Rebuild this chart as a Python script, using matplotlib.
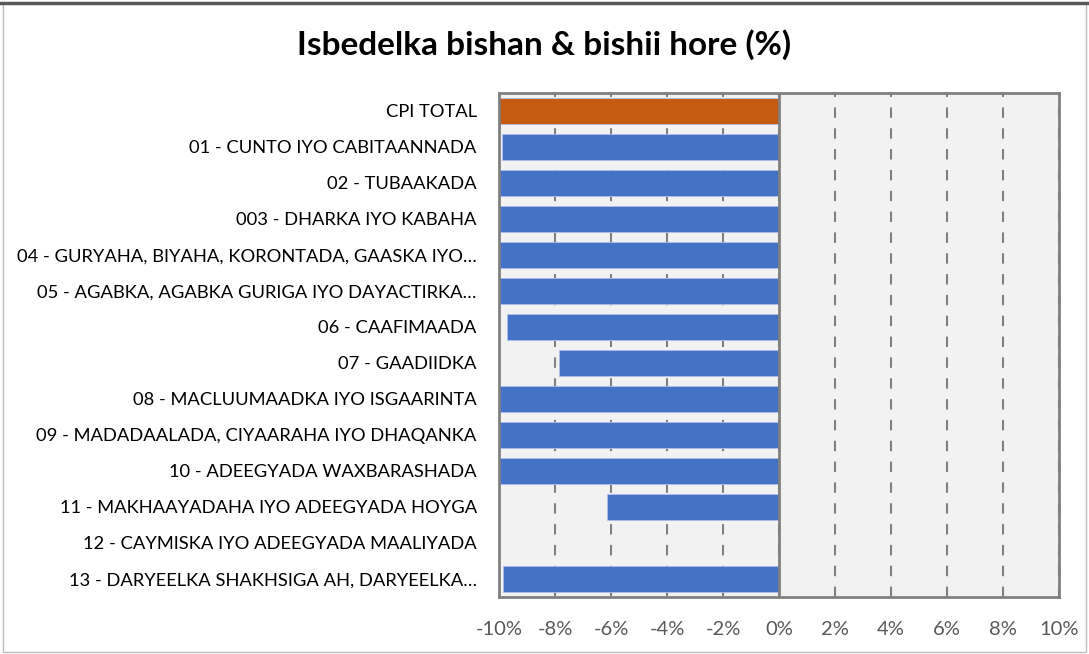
import matplotlib
matplotlib.use('Agg')

import matplotlib.pyplot as plt
from matplotlib.ticker import FuncFormatter
from matplotlib.patches import Rectangle

# 카테고리와 값 (%), -10% 밖은 잘린 값
categories = [
    'CPI TOTAL',
    '01 - CUNTO IYO CABITAANNADA',
    '02 - TUBAAKADA',
    '003 - DHARKA IYO KABAHA',
    '04 - GURYAHA, BIYAHA, KORONTADA, GAASKA IYO…',
    '05 - AGABKA, AGABKA GURIGA IYO DAYACTIRKA…',
    '06 - CAAFIMAADA',
    '07 - GAADIIDKA',
    '08 - MACLUUMAADKA IYO ISGAARINTA',
    '09 - MADADAALADA, CIYAARAHA IYO DHAQANKA',
    '10 - ADEEGYADA WAXBARASHADA',
    '11 - MAKHAAYADAHA IYO ADEEGYADA HOYGA',
    '12 - CAYMISKA IYO ADEEGYADA MAALIYADA',
    '13 - DARYEELKA SHAKHSIGA AH, DARYEELKA…',
]
values = [-12.0, -9.9, -12.0, -12.0, -12.0, -12.0, -9.73, -7.84,
          -12.0, -12.0, -12.0, -6.16, 0.0, -9.86]
bar_colors = ['#C55A11'] + ['#4472C4'] * (len(categories) - 1)
xticks = [-10, -8, -6, -4, -2, 0, 2, 4, 6, 8, 10]

plt.rcParams['font.family'] = ['Lato', 'DejaVu Sans']

fig = plt.figure(figsize=(10.89, 6.54), dpi=100)
ax = fig.add_axes([0.4582, 0.0872, 0.9725 - 0.4582, 0.8578 - 0.0872])
ax.set_facecolor('#F2F2F2')

ypos = list(range(len(categories)))
ax.barh(ypos, values, height=0.7, color=bar_colors, edgecolor='#A9C0E8',
        linewidth=0.6, zorder=3)

ax.set_xlim(-10, 10)
ax.set_ylim(len(categories) - 0.5, -0.5)
ax.set_xticks(xticks)
ax.xaxis.set_major_formatter(FuncFormatter(lambda v, p: f'{v:.0f}%'))
ax.tick_params(axis='x', length=0, pad=17, labelsize=14.5, labelcolor='#595959')
ax.set_yticks(ypos)
ax.set_yticklabels(categories)
ax.tick_params(axis='y', length=0, pad=16, labelsize=13.2, labelcolor='#000000')

# 점선 그리드
ax.grid(axis='x', color='#808080', linestyle=(0, (5, 5)), linewidth=1.5, zorder=1)
ax.axvline(0, color='#808080', linewidth=2, zorder=4)
for s in ax.spines.values():
    s.set_color('#808080')
    s.set_linewidth(2)
    s.set_zorder(5)

fig.suptitle('Isbedelka bishan & bishii hore (%)', y=0.955, fontsize=24,
             fontweight='bold', x=0.5)

# 차트 바깥 테두리
fig.patches.append(Rectangle((0.003, 0.003), 0.994, 0.992, transform=fig.transFigure,
                             fill=False, edgecolor='#BFBFBF', linewidth=1))
fig.lines.append(plt.Line2D([0, 1], [0.995, 0.995], transform=fig.transFigure,
                            color='#595959', linewidth=2.5))

plt.savefig('out.png', dpi=100)
plt.close()
